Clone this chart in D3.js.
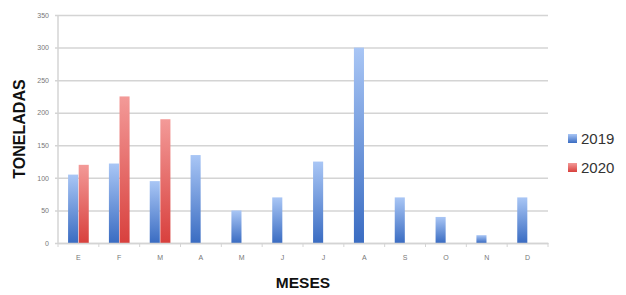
<!DOCTYPE html>
<html>
<head>
<meta charset="utf-8">
<script src="https://cdn.jsdelivr.net/npm/d3@7"></script>
<style>
  body { margin: 0; background: #fff; }
  svg { display: block; font-family: "Liberation Sans", Arial, sans-serif; }
</style>
</head>
<body>
<div id="chart"></div>
<script>
// chart data
const months = ["E", "F", "M", "A", "M", "J", "J", "A", "S", "O", "N", "D"];
const series = ["2019", "2020"];
const values2019 = [105, 122, 95, 135, 50, 70, 125, 300, 70, 40, 12, 70];
const values2020 = [120, 225, 190, null, null, null, null, null, null, null, null, null];
const yTicks = [0, 50, 100, 150, 200, 250, 300, 350];

const width = 626, height = 295;
const margin = { left: 58, right: 78, top: 15, bottom: 52 };

const svg = d3.select("#chart").append("svg")
    .attr("width", width).attr("height", height);

const defs = svg.append("defs");
function grad(id, top, bottom) {
    const g = defs.append("linearGradient").attr("id", id)
        .attr("x1", 0).attr("y1", 0).attr("x2", 0).attr("y2", 1);
    g.append("stop").attr("offset", "0%").attr("stop-color", top);
    g.append("stop").attr("offset", "100%").attr("stop-color", bottom);
}
grad("g2019", "#a9c6f5", "#3a6cc2");
grad("g2020", "#f39a98", "#d8403d");

const x = d3.scaleBand()
    .domain(d3.range(months.length))
    .range([margin.left, width - margin.right]);

const xs = d3.scaleBand()
    .domain(series)
    .range([0, x.bandwidth()])
    .paddingInner(0.05)
    .paddingOuter(0.95);

const y = d3.scaleLinear()
    .domain([0, 350])
    .range([height - margin.bottom, margin.top]);

// gridlines
svg.append("g")
    .attr("transform", `translate(${margin.left},0)`)
    .call(d3.axisLeft(y).tickValues(yTicks).tickSize(-(width - margin.left - margin.right)).tickPadding(9))
    .call(g => g.select(".domain").remove())
    .call(g => g.selectAll(".tick line").attr("stroke", "#d4d4d4").attr("stroke-width", 1.5).attr("x1", -3))
    .call(g => g.selectAll(".tick text").attr("fill", "#777").attr("font-size", 7));

// y axis line
svg.append("line")
    .attr("x1", margin.left).attr("x2", margin.left)
    .attr("y1", y(350)).attr("y2", y(0))
    .attr("stroke", "#d4d4d4").attr("stroke-width", 1.5);

// bars
const table = months.map((m, i) => ({ i, vals: [values2019[i], values2020[i]] }));
const groups = svg.append("g").selectAll("g")
    .data(table).join("g")
    .attr("transform", d => `translate(${x(d.i)},0)`);

groups.selectAll("rect")
    .data(d => d.vals.map((v, k) => ({ s: series[k], v })).filter(e => e.v != null))
    .join("rect")
    .attr("x", d => xs(d.s))
    .attr("width", xs.bandwidth())
    .attr("y", d => y(d.v))
    .attr("height", d => y(0) - y(d.v))
    .attr("fill", d => `url(#g${d.s})`);

// x axis
svg.append("g")
    .attr("transform", `translate(0,${y(0)})`)
    .call(d3.axisBottom(x).tickFormat(i => months[i]).tickSize(0).tickPadding(12))
    .call(g => g.select(".domain").attr("stroke", "#d4d4d4").attr("stroke-width", 1.5))
    .call(g => g.selectAll(".tick text").attr("fill", "#777").attr("font-size", 7));

svg.append("g").selectAll("line")
    .data(d3.range(months.length + 1)).join("line")
    .attr("x1", i => margin.left + i * x.step())
    .attr("x2", i => margin.left + i * x.step())
    .attr("y1", y(0)).attr("y2", y(0) + 4)
    .attr("stroke", "#d4d4d4").attr("stroke-width", 1);

// axis titles
svg.append("text")
    .attr("transform", `translate(25,129) rotate(-90)`)
    .attr("text-anchor", "middle")
    .attr("font-size", 16).attr("font-weight", "bold").attr("fill", "#111")
    .text("TONELADAS");

svg.append("text")
    .attr("x", 303).attr("y", 288)
    .attr("text-anchor", "middle")
    .attr("font-size", 15.5).attr("font-weight", "bold").attr("fill", "#111")
    .text("MESES");

// legend
const legend = svg.append("g").selectAll("g")
    .data(series).join("g")
    .attr("transform", (d, k) => `translate(568,${139 + k * 29})`);
legend.append("rect")
    .attr("x", 0).attr("y", -5).attr("width", 9).attr("height", 9)
    .attr("fill", d => `url(#g${d})`);
legend.append("text")
    .attr("x", 13).attr("y", 5)
    .attr("font-size", 15).attr("fill", "#333")
    .text(d => d);
</script>
</body>
</html>
